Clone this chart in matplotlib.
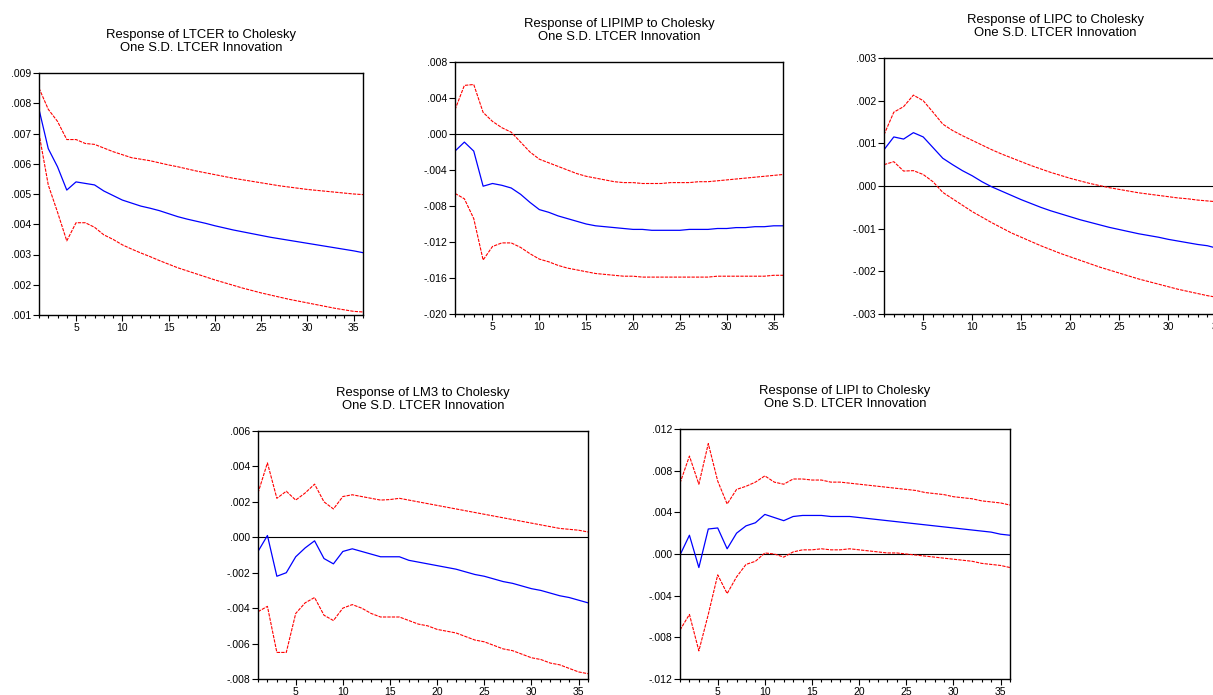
import numpy as np
import matplotlib
matplotlib.use("Agg")
import matplotlib.pyplot as plt
from matplotlib.ticker import FuncFormatter, MultipleLocator

plt.rcParams['font.family'] = ['Liberation Sans', 'DejaVu Sans']

periods = np.arange(1, 37)

# LTCER response
ltcer_mid = [.0078, .0065, .0059, .00513, .0054, .00535, .0053, .0051, .00495, .0048,
             .0047, .0046, .00453, .00445, .00435, .00425, .00417, .0041, .00403, .00395,
             .00388, .00381, .00375, .00369, .00363, .00357, .00352, .00347, .00342, .00337,
             .00332, .00327, .00322, .00317, .00312, .00306]
ltcer_hi = [.0085, .0078, .0074, .0068, .0068, .00667, .00664, .00652, .0064, .0063,
            .0062, .00615, .0061, .00603, .00596, .0059, .00583, .00576, .0057, .00564,
            .00558, .00552, .00547, .00542, .00537, .00532, .00527, .00523, .00519, .00515,
            .00512, .00509, .00506, .00503, .005, .00498]
ltcer_lo = [.0070, .0053, .0044, .00345, .00405, .00405, .0039, .00365, .0035, .00332,
            .00318, .00305, .00293, .0028, .00268, .00256, .00246, .00236, .00226, .00216,
            .00207, .00198, .00189, .00181, .00173, .00166, .00159, .00152, .00146, .0014,
            .00134, .00128, .00122, .00117, .00112, .0011]

# LIPIMP response
lipimp_mid = [-.0019, -.0009, -.0019, -.0058, -.0055, -.0057, -.0060, -.0067, -.0076, -.0084,
              -.0087, -.0091, -.0094, -.0097, -.0100, -.0102, -.0103, -.0104, -.0105, -.0106,
              -.0106, -.0107, -.0107, -.0107, -.0107, -.0106, -.0106, -.0106, -.0105, -.0105,
              -.0104, -.0104, -.0103, -.0103, -.0102, -.0102]
lipimp_hi = [.0027, .0054, .0055, .0024, .0014, .0007, .0002, -.0009, -.0020, -.0028,
             -.0032, -.0036, -.0040, -.0044, -.0047, -.0049, -.0051, -.0053, -.0054, -.0054,
             -.0055, -.0055, -.0055, -.0054, -.0054, -.0054, -.0053, -.0053, -.0052, -.0051,
             -.0050, -.0049, -.0048, -.0047, -.0046, -.0045]
lipimp_lo = [-.0066, -.0072, -.0094, -.0140, -.0125, -.0121, -.0121, -.0126, -.0133, -.0139,
             -.0142, -.0146, -.0149, -.0151, -.0153, -.0155, -.0156, -.0157, -.0158, -.0158,
             -.0159, -.0159, -.0159, -.0159, -.0159, -.0159, -.0159, -.0159, -.0158, -.0158,
             -.0158, -.0158, -.0158, -.0158, -.0157, -.0157]

# LIPC response
lipc_mid = [.00085, .00115, .0011, .00125, .00115, .0009, .00065, .0005, .00036, .00024,
            .0001, -.00002, -.00012, -.00022, -.00032, -.00041, -.0005, -.00058, -.00065, -.00072,
            -.00079, -.00085, -.00091, -.00097, -.00102, -.00107, -.00112, -.00116, -.0012, -.00125,
            -.00129, -.00133, -.00137, -.0014, -.00146, -.00151]
lipc_hi = [.0012, .00173, .00186, .00213, .002, .00173, .00145, .0013, .00118, .00107,
           .00096, .00085, .00075, .00066, .00057, .00048, .0004, .00032, .00025, .00018,
           .00012, .00006, .00001, -.00004, -.00008, -.00012, -.00016, -.00019, -.00022, -.00025,
           -.00028, -.0003, -.00033, -.00035, -.00037, -.00039]
lipc_lo = [.0005, .00057, .00035, .00036, .00027, .0001, -.00015, -.0003, -.00045, -.0006,
           -.00073, -.00086, -.00098, -.0011, -.0012, -.0013, -.0014, -.00149, -.00158, -.00166,
           -.00174, -.00182, -.0019, -.00197, -.00204, -.00211, -.00218, -.00224, -.0023, -.00236,
           -.00242, -.00247, -.00252, -.00257, -.00261, -.00265]

# LM3 response
lm3_mid = [-.0008, .0001, -.0022, -.0020, -.0011, -.0006, -.0002, -.0012, -.0015, -.0008,
           -.00065, -.0008, -.00095, -.0011, -.0011, -.0011, -.0013, -.0014, -.0015, -.0016,
           -.0017, -.0018, -.00195, -.0021, -.0022, -.00235, -.0025, -.0026, -.00275, -.0029,
           -.0030, -.00315, -.0033, -.0034, -.00355, -.0037]
lm3_hi = [.0025, .0042, .0022, .0026, .0021, .0025, .0030, .0020, .0016, .0023,
          .0024, .0023, .0022, .0021, .00213, .0022, .0021, .0020, .0019, .0018,
          .0017, .0016, .0015, .0014, .0013, .0012, .0011, .0010, .0009, .0008,
          .0007, .0006, .0005, .00045, .0004, .0003]
lm3_lo = [-.0042, -.0039, -.0065, -.0065, -.0043, -.0037, -.0034, -.0044, -.0047, -.0040,
          -.0038, -.0040, -.0043, -.0045, -.0045, -.0045, -.0047, -.0049, -.0050, -.0052,
          -.0053, -.0054, -.0056, -.0058, -.0059, -.0061, -.0063, -.0064, -.0066, -.0068,
          -.0069, -.0071, -.0072, -.0074, -.0076, -.0077]

# LIPI response
lipi_mid = [-.0001, .0018, -.0013, .0024, .0025, .0005, .0020, .0027, .0030, .0038,
            .0035, .0032, .0036, .0037, .0037, .0037, .0036, .0036, .0036, .0035,
            .0034, .0033, .0032, .0031, .0030, .0029, .0028, .0027, .0026, .0025,
            .0024, .0023, .0022, .0021, .0019, .0018]
lipi_hi = [.0068, .0094, .0067, .0106, .0070, .0048, .0062, .0065, .0069, .0075,
           .0069, .0067, .0072, .0072, .0071, .0071, .0069, .0069, .0068, .0067,
           .0066, .0065, .0064, .0063, .0062, .0061, .0059, .0058, .0057, .0055,
           .0054, .0053, .0051, .0050, .0049, .0047]
lipi_lo = [-.0073, -.0058, -.0093, -.0058, -.0020, -.0038, -.0022, -.0010, -.0007, .0001,
           .0000, -.0003, .0002, .0004, .0004, .0005, .0004, .0004, .0005, .0004,
           .0003, .0002, .0001, .0001, .0000, -.0001, -.0002, -.0003, -.0004, -.0005,
           -.0006, -.0007, -.0009, -.0010, -.0011, -.0013]

names = ["LTCER", "LIPIMP", "LIPC", "LM3", "LIPI"]
mids = [ltcer_mid, lipimp_mid, lipc_mid, lm3_mid, lipi_mid]
his = [ltcer_hi, lipimp_hi, lipc_hi, lm3_hi, lipi_hi]
los = [ltcer_lo, lipimp_lo, lipc_lo, lm3_lo, lipi_lo]
ylims = [(.001, .009), (-.020, .008), (-.003, .003), (-.008, .006), (-.012, .012)]
ysteps = [.001, .004, .001, .002, .004]
zero_line = [False, True, True, True, True]

W, H = 1213, 695
# axes boxes in pixels: left, top, right, bottom
boxes = [(39, 73, 363, 315), (455, 62, 783, 314), (884, 58, 1227, 314),
         (258, 431, 588, 679), (680, 429, 1010, 679)]


def fmt(v, pos):
    s = f"{v:.3f}"
    s = s.replace("0.", ".", 1)
    return s


fig = plt.figure(figsize=(W / 100, H / 100), dpi=100)
for i in range(5):
    l, t, r, b = boxes[i]
    ax = fig.add_axes([l / W, 1 - b / H, (r - l) / W, (b - t) / H])
    if zero_line[i]:
        ax.axhline(0, color='black', lw=0.8)
    ax.plot(periods, mids[i], color='#0000ff', lw=0.9)
    ax.plot(periods, his[i], color='#ff0000', lw=0.8, ls=(0, (3, 1)))
    ax.plot(periods, los[i], color='#ff0000', lw=0.8, ls=(0, (3, 1)))
    ax.set_xlim(1, 36)
    ax.set_ylim(*ylims[i])
    ax.yaxis.set_major_locator(MultipleLocator(ysteps[i]))
    ax.yaxis.set_major_formatter(FuncFormatter(fmt))
    ax.set_xticks([5, 10, 15, 20, 25, 30, 35])
    ax.xaxis.set_minor_locator(MultipleLocator(1))
    ax.tick_params(axis='both', which='major', labelsize=7.5, direction='out',
                   length=4, width=0.8, pad=1.5)
    ax.tick_params(axis='x', which='minor', length=2.5, width=0.8)
    for sp in ax.spines.values():
        sp.set_linewidth(1.0)
    ax.set_title(f"Response of {names[i]} to Cholesky\nOne S.D. LTCER Innovation",
                 fontsize=9.4, pad=16, linespacing=1.1)

fig.savefig("out.png", dpi=100)
